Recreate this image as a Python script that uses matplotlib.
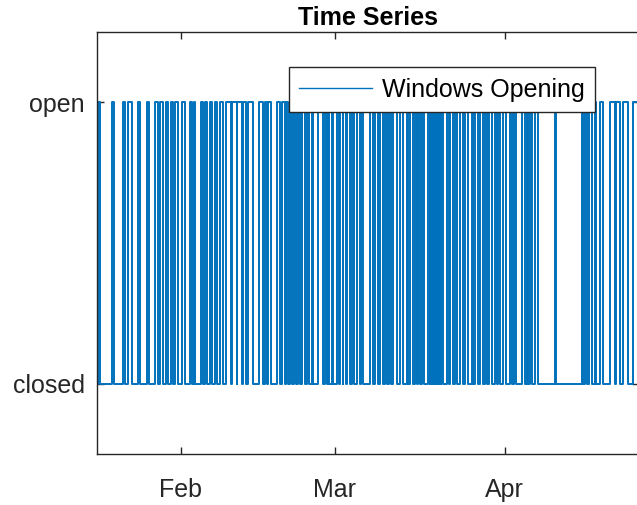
import numpy as np
import pandas as pd
import matplotlib
matplotlib.use("Agg")
import matplotlib.pyplot as plt

plt.rcParams['font.family'] = ['Liberation Sans', 'DejaVu Sans']

# day numbers counted from Jan 1 (fractional), non-leap year
year_start = pd.Timestamp("2021-01-01")
series_start = 15.72
series_end = 114.45
# spans where the window was open: (opened, closed)
open_from = [15.85, 18.5, 20.4, 21.4, 23.15, 24.75, 26.25, 27.2, 28.2, 29.2,
             30.0, 31.25, 32.75, 33.4, 34.65, 35.4, 36.3, 37.2, 38.1, 39.3,
             40.4, 41.3, 42.3, 43.25, 45.25, 46.3, 46.9, 48.55, 49.35, 50.15,
             50.9, 51.6, 52.4, 53.0, 54.0, 54.8, 56.0, 57.25, 57.75, 58.45,
             59.45, 60.0, 60.6, 61.3, 62.1, 63.1, 63.75, 65.45, 66.35, 67.25,
             68.15, 68.95, 69.65, 70.9, 72.1, 72.7, 73.6, 74.2, 74.85,
             76.05, 76.4, 76.75, 77.1, 77.4, 77.75, 78.1, 78.45,
             79.4, 80.0, 80.9, 81.8, 82.75, 83.95, 84.55, 85.45, 86.35, 87.15,
             88.2, 88.7, 89.7, 90.9, 91.65, 93.05, 94.0, 94.55, 95.5, 99.1,
             104.0, 104.6, 105.35, 106.4, 107.3, 109.15, 110.35, 111.55, 113.4]
open_to = [16.2, 18.9, 20.9, 22.05, 23.6, 25.2, 26.75, 27.7, 28.7, 29.65,
           30.45, 31.7, 33.05, 33.65, 35.05, 35.8, 36.75, 37.6, 38.6, 40.05,
           41.15, 42.05, 42.8, 44.05, 45.9, 46.6, 47.4, 49.0, 49.95, 50.55,
           51.3, 51.95, 52.7, 53.55, 54.4, 55.1, 56.8, 57.55, 58.0, 58.75,
           59.85, 60.45, 61.05, 61.8, 62.5, 63.6, 64.2, 66.0, 66.95, 67.85,
           68.6, 69.2, 70.3, 71.5, 72.4, 73.2, 73.95, 74.55, 75.25,
           76.3, 76.7, 77.0, 77.35, 77.7, 78.0, 78.4, 78.8,
           79.85, 80.6, 81.35, 82.3, 83.35, 84.25, 85.15, 85.95, 86.8, 87.6,
           88.5, 89.1, 90.2, 91.4, 92.0, 93.65, 94.25, 95.05, 96.1, 99.4,
           104.3, 105.0, 105.8, 106.7, 107.9, 110.05, 110.95, 112.5, None]
state_labels = ["closed", "open"]
month_ticks = ["2021-02-01", "2021-03-01", "2021-04-01"]
month_labels = ["Feb", "Mar", "Apr"]

# build step series
t = [series_start]
v = [0]
for a, b in zip(open_from, open_to):
    t.append(a); v.append(1)
    if b is not None:
        t.append(b); v.append(0)
t.append(series_end); v.append(v[-1])
times = year_start + pd.to_timedelta(np.array(t), unit="D")

fig = plt.figure(figsize=(6.37, 5.05), dpi=100)
ax = fig.add_axes([97/637, 51/505, 542/637, 422/505])
ax.plot(times, v, drawstyle="steps-post", color="#0072BD", lw=1.4,
        label="Windows Opening")

ax.set_xlim(times[0], times[-1])
ax.set_ylim(-0.25, 1.25)
ax.set_yticks([0, 1])
ax.set_yticklabels(state_labels)
ax.set_xticks(pd.to_datetime(month_ticks))
ax.set_xticklabels(month_labels)

dark = "#262626"
for s in ax.spines.values():
    s.set_color(dark)
    s.set_linewidth(1.0)
ax.tick_params(direction="in", length=5, width=1, colors=dark,
               labelsize=18, top=True, right=True)
ax.tick_params(axis="x", pad=17)
ax.tick_params(axis="y", pad=9)

ax.set_title("Time Series", fontsize=18, fontweight="bold", pad=5, color="black")

leg = ax.legend(loc="upper right", bbox_to_anchor=(0.919, 0.917),
                borderaxespad=0, fontsize=18, handlelength=2.9,
                handletextpad=0.4, fancybox=False, framealpha=1,
                borderpad=0.42)
leg.get_frame().set_edgecolor(dark)
leg.get_frame().set_linewidth(1.0)
leg.get_lines()[0].set_linewidth(1.0)

fig.savefig("out.png", dpi=100)
